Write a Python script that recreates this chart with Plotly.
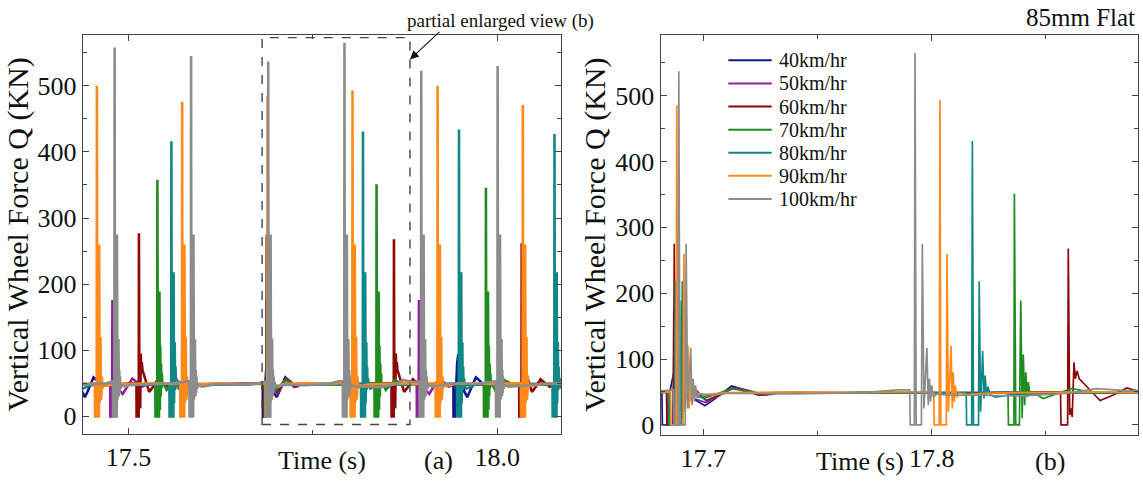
import plotly.graph_objects as go

# ---------------------------------------------------------------- data
SPEEDS = ["40km/hr", "50km/hr", "60km/hr", "70km/hr", "80km/hr", "90km/hr", "100km/hr"]
COLORS = ["#14148c", "#8e1f9e", "#8b0b0b", "#1f8c1f", "#118888", "#ff8a1a", "#8c8c8c"]

# instants (s) of the first force peak of every wheel impact, and that peak (kN)
EVENT_T_40 = [17.4285, 17.6885, 17.9470]
EVENT_Q_40 = [100, 105, 94]
EVENT_T_50 = [17.4780, 17.6871, 17.8937]
EVENT_Q_50 = [176, 175, 176]
EVENT_T_60 = [17.5140, 17.6873, 17.8598, 18.0330]
EVENT_Q_60 = [277, 275, 268, 262]
EVENT_T_70 = [17.5390, 17.6876, 17.8362, 17.9845]
EVENT_Q_70 = [358, 160, 351, 346]
EVENT_T_80 = [17.4280, 17.5580, 17.6878, 17.8178, 17.9480, 18.0775]
EVENT_Q_80 = [420, 416, 218, 431, 434, 427]
EVENT_T_90 = [17.4570, 17.5726, 17.6884, 17.8036, 17.9190, 18.0346]
EVENT_Q_90 = [500, 476, 485, 493, 500, 471]
EVENT_T_100 = [17.4810, 17.5847, 17.6893, 17.7927, 17.8968, 18.0004]
EVENT_Q_100 = [558, 545, 537, 565, 523, 530]

# impact transient of each speed: time offset from the first peak (s) and force (kN);
# the entry at offset 0 is the first peak, replaced by the value of each impact
WAVE_DT_40 = [-0.0066, -0.0064, -0.0045, -0.0030, -0.0015, 0.0, 0.0015, 0.0030, 0.0045,
              0.0060, 0.0080, 0.0122, 0.0160, 0.0239, 0.0300, 0.0355, 0.0420, 0.0500]
WAVE_Q_40 = [50, 0, 0, 52, 80, 105, 30, 70, 40, 50, 38, 29, 38, 59, 53, 45, 49, 48]
WAVE_DT_50 = [-0.0030, -0.0028, -0.0004, 0.0, 0.0006, 0.0012, 0.0025, 0.0040, 0.0060,
              0.0090, 0.0140, 0.0200, 0.0270, 0.0330, 0.0400, 0.0480]
WAVE_Q_50 = [50, 0, 0, 175, 8, 60, 38, 55, 42, 40, 34, 45, 57, 52, 45, 49]
WAVE_DT_60 = [-0.0034, -0.0032, -0.0003, 0.0, 0.0006, 0.0012, 0.0017, 0.0025, 0.0031, 0.0038,
              0.0048, 0.0065, 0.0090, 0.0139, 0.0195, 0.0256, 0.0320, 0.0380, 0.0450]
WAVE_Q_60 = [50, 0, 0, 268, 15, 25, 12, 95, 70, 82, 70, 64, 55, 37, 45, 56, 50, 45, 49]
WAVE_DT_70 = [-0.0028, -0.0026, -0.0002, 0.0, 0.0006, 0.0022, 0.0028, 0.0034, 0.0039,
              0.0045, 0.0050, 0.0056, 0.0061, 0.0068, 0.0080, 0.0125, 0.0250, 0.0370]
WAVE_Q_70 = [50, 0, 0, 351, 0, 0, 189, 10, 107, 30, 80, 42, 65, 46, 50, 40, 55, 48]
WAVE_DT_80 = [-0.0027, -0.0025, -0.0003, 0.0, 0.0005, 0.0027, 0.0030, 0.0036, 0.0045,
              0.0051, 0.0056, 0.0062, 0.0068, 0.0078, 0.0100, 0.0200]
WAVE_Q_80 = [49, 0, 0, 431, 0, 0, 218, 20, 112, 40, 75, 45, 58, 46, 42, 47]
WAVE_DT_90 = [-0.0027, -0.0025, -0.0003, 0.0, 0.0004, 0.0028, 0.0031, 0.0037, 0.0049,
              0.0054, 0.0058, 0.0063, 0.0067, 0.0074, 0.0084, 0.0120, 0.0200]
WAVE_Q_90 = [50, 0, 0, 493, 0, 0, 260, 20, 120, 25, 80, 35, 60, 42, 48, 46, 48]
WAVE_DT_100 = [-0.0023, -0.0021, -0.0003, 0.0, 0.0005, 0.0028, 0.0032, 0.0039, 0.0052,
               0.0058, 0.0063, 0.0068, 0.0073, 0.0080, 0.0095, 0.0150]
WAVE_Q_100 = [53, 0, 0, 565, 0, 0, 275, 25, 117, 30, 70, 35, 60, 42, 47, 45]

# quasi-static force between impacts (kN) on a common time grid (s)
BASE_T = [17.40, 17.44, 17.47, 17.50, 17.53, 17.56, 17.59, 17.62, 17.65, 17.675, 17.71, 17.74,
          17.77, 17.785, 17.80, 17.82, 17.84, 17.86, 17.872, 17.885, 17.91, 17.94, 17.97, 18.00,
          18.03, 18.06, 18.10]
BASE_Q_40 = [48, 49, 49, 48, 49, 48, 49, 49, 48, 50, 49, 48, 49, 49, 48, 49, 48, 49, 48, 49, 48,
             49, 48, 49, 48, 49, 48]
BASE_Q_50 = [49, 48, 49, 49, 48, 49, 48, 49, 49, 50, 48, 49, 48, 49, 49, 48, 49, 48, 49, 49, 48,
             49, 48, 49, 49, 48, 49]
BASE_Q_60 = [48, 49, 48, 49, 49, 48, 49, 48, 49, 50, 49, 48, 49, 50, 48, 49, 50, 49, 48, 49, 49,
             48, 49, 48, 49, 48, 49]
BASE_Q_70 = [49, 48, 49, 48, 49, 49, 48, 49, 48, 50, 48, 49, 49, 48, 49, 48, 49, 49, 48, 49, 48,
             49, 48, 49, 48, 49, 48]
BASE_Q_80 = [48, 47, 49, 48, 49, 48, 49, 48, 49, 49, 48, 49, 48, 49, 48, 45, 46, 49, 48, 49, 48,
             49, 48, 49, 48, 49, 48]
BASE_Q_90 = [50, 49, 50, 49, 50, 49, 50, 50, 49, 50, 49, 50, 49, 50, 49, 50, 49, 50, 50, 49, 50,
             49, 50, 49, 50, 49, 50]
BASE_Q_100 = [49, 48, 50, 47, 49, 50, 48, 49, 48, 50, 48, 47, 49, 53, 45, 45, 44, 48, 55, 52, 48,
              50, 49, 51, 46, 49, 50]

SERIES = [
    (EVENT_T_40, EVENT_Q_40, WAVE_DT_40, WAVE_Q_40, BASE_Q_40),
    (EVENT_T_50, EVENT_Q_50, WAVE_DT_50, WAVE_Q_50, BASE_Q_50),
    (EVENT_T_60, EVENT_Q_60, WAVE_DT_60, WAVE_Q_60, BASE_Q_60),
    (EVENT_T_70, EVENT_Q_70, WAVE_DT_70, WAVE_Q_70, BASE_Q_70),
    (EVENT_T_80, EVENT_Q_80, WAVE_DT_80, WAVE_Q_80, BASE_Q_80),
    (EVENT_T_90, EVENT_Q_90, WAVE_DT_90, WAVE_Q_90, BASE_Q_90),
    (EVENT_T_100, EVENT_Q_100, WAVE_DT_100, WAVE_Q_100, BASE_Q_100),
]

# time windows of the two panels (s) and the outlined region of the overview
RANGE_A = [17.4378, 18.0863]
RANGE_B = [17.6813, 17.8902]
BOX_T = [17.681, 17.8815]
BOX_Q = [-12.4, 573.0]

FONT = "Liberation Serif, Times New Roman, serif"


def history(ev_t, ev_q, wave_dt, wave_q, base_q):
    """Force time history: every impact transient plus the quiet signal between them."""
    k0 = wave_dt.index(0.0)
    lo, hi = wave_dt[0], wave_dt[-1]
    pts = []
    for t0, peak in zip(ev_t, ev_q):
        q = list(wave_q)
        q[k0] = peak
        pts += [(t0 + d, v) for d, v in zip(wave_dt, q)]
    for t, v in zip(BASE_T, base_q):
        if all(not (t0 + lo <= t <= t0 + hi) for t0 in ev_t):
            pts.append((t, v))
    pts.sort()
    return [p[0] for p in pts], [p[1] for p in pts]


fig = go.Figure()
for name, color, s in zip(SPEEDS, COLORS, SERIES):
    t, q = history(*s)
    fig.add_trace(go.Scatter(x=t, y=q, mode="lines", name=name, legendgroup=name,
                             line=dict(color=color, width=2.6), xaxis="x", yaxis="y",
                             showlegend=False))
    fig.add_trace(go.Scatter(x=t, y=q, mode="lines", name=name, legendgroup=name,
                             line=dict(color=color, width=1.7), xaxis="x2", yaxis="y2",
                             showlegend=False))

axis = dict(showline=True, linecolor="#444", linewidth=1, mirror="allticks", ticks="inside",
            ticklen=6, tickcolor="#444", showgrid=False, zeroline=False,
            tickfont=dict(family=FONT, size=26, color="#111"))
ytitle = dict(text="Vertical Wheel Force Q (KN)", font=dict(family=FONT, size=30, color="#111"),
              standoff=0)

fig.update_layout(
    width=1143, height=481, margin=dict(l=0, r=0, t=0, b=0),
    font=dict(family=FONT, color="#111"),
    paper_bgcolor="white", plot_bgcolor="white", showlegend=False,
    xaxis=dict(axis, domain=[0.0724, 0.4908], range=RANGE_A, tick0=17.5, dtick=0.5,
               tickformat=".1f", minor=dict(ticks="inside", ticklen=4, dtick=0.25, tick0=17.5,
                                            tickcolor="#444"), anchor="y"),
    yaxis=dict(axis, domain=[0.0884, 0.9266], range=[-26.6, 577], tick0=0, dtick=100,
               minor=dict(ticks="inside", ticklen=4, dtick=50, tickcolor="#444"),
               title=ytitle, anchor="x"),
    xaxis2=dict(axis, domain=[0.5779, 0.9954], range=RANGE_B, tick0=17.7, dtick=0.1,
                tickformat=".1f", minor=dict(ticks="inside", ticklen=4, dtick=0.05, tick0=17.7,
                                             tickcolor="#444"), anchor="y2"),
    yaxis2=dict(axis, domain=[0.0867, 0.9272], range=[-15.0, 592.7], tick0=0, dtick=100,
                minor=dict(ticks="inside", ticklen=4, dtick=50, tickcolor="#444"),
                title=ytitle, anchor="x2"),
)

# outline of the region shown enlarged in panel (b)
fig.add_shape(type="rect", xref="x", yref="y", x0=BOX_T[0], x1=BOX_T[1], y0=BOX_Q[0], y1=BOX_Q[1],
              line=dict(color="#444", width=1.4, dash="dash"))
fig.add_annotation(xref="x", yref="y", x=BOX_T[1], y=540, ax=31, ay=-29, text="",
                   showarrow=True, arrowhead=2, arrowsize=1.6, arrowwidth=1.1, arrowcolor="#111")

txt = dict(family=FONT, color="#111")
fig.add_annotation(xref="paper", yref="paper", x=0.4379, y=0.9549, text="partial enlarged view (b)",
                   showarrow=False, font=dict(txt, size=19), xanchor="center", yanchor="middle")
fig.add_annotation(xref="paper", yref="paper", x=0.9948, y=0.9626, text="85mm Flat",
                   showarrow=False, font=dict(txt, size=25), xanchor="right", yanchor="middle")
fig.add_annotation(xref="paper", yref="paper", x=0.2817, y=0.033, text="Time (s)",
                   showarrow=False, font=dict(txt, size=26), xanchor="center", yanchor="middle")
fig.add_annotation(xref="paper", yref="paper", x=0.7524, y=0.030, text="Time (s)",
                   showarrow=False, font=dict(txt, size=26), xanchor="center", yanchor="middle")
fig.add_annotation(xref="paper", yref="paper", x=0.384, y=0.033, text="(a)",
                   showarrow=False, font=dict(txt, size=26), xanchor="center", yanchor="middle")
fig.add_annotation(xref="paper", yref="paper", x=0.9186, y=0.030, text="(b)",
                   showarrow=False, font=dict(txt, size=26), xanchor="center", yanchor="middle")

# key of the speeds inside panel (b)
for i, (name, color) in enumerate(zip(SPEEDS, COLORS)):
    yp = (481 - (61 + 23.33 * i)) / 481
    fig.add_shape(type="line", xref="paper", yref="paper", x0=728.3 / 1143, x1=771.7 / 1143,
                  y0=yp, y1=yp, line=dict(color=color, width=2))
    fig.add_annotation(xref="paper", yref="paper", x=776.7 / 1143, y=yp, text=name,
                       showarrow=False, font=dict(txt, size=20), xanchor="left",
                       yanchor="middle")

fig.write_html("out.html")
